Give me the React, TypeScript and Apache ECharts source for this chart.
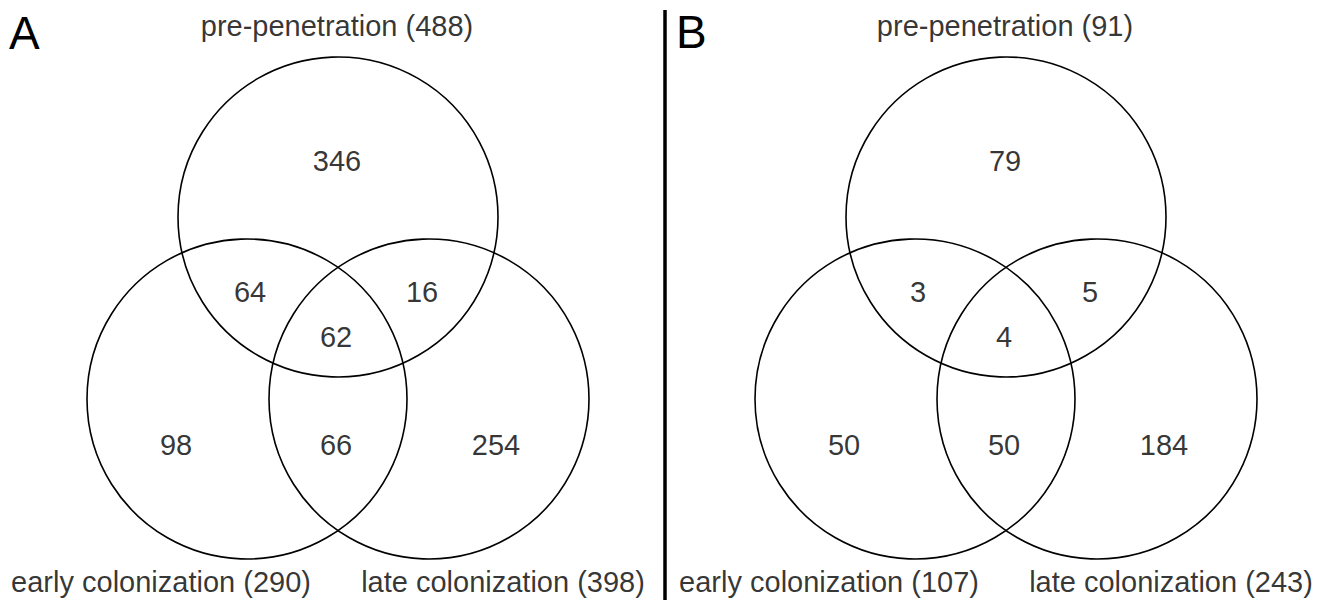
import React, { useEffect, useRef } from "react";
import * as echarts from "echarts";

// ---- data ----
const setNames = ["pre-penetration", "early colonization", "late colonization"];
const totalsA = [488, 290, 398];
const totalsB = [91, 107, 243];
// regions: pre only, pre∩early, pre∩late, all three, early only, early∩late, late only
const regionNames = ["pre only", "pre & early", "pre & late", "all", "early only", "early & late", "late only"];
const countsA = [346, 64, 16, 62, 98, 66, 254];
const countsB = [79, 3, 5, 4, 50, 50, 184];
const panelLetters = ["A", "B"];

// ---- layout (panel-local coordinates, pixels of the 1326x600 canvas) ----
const panelOffsets = [0, 668];
const circleCenters = [
  [338, 217],
  [247, 399],
  [429, 399],
];
const circleRadius = 160;
const regionPos = [
  [337, 161],
  [250, 292],
  [422, 292],
  [336, 337],
  [176, 445],
  [336, 445],
  [496, 445],
];
const setLabelPos = [
  [337, 26],
  [161, 582],
  [503, 582],
];

const FONT = "'Liberation Sans', Arial, Helvetica, sans-serif";

export default function App() {
  const ref = useRef<HTMLDivElement>(null);
  useEffect(() => {
    document.body.style.margin = "0";
    const chart = echarts.init(ref.current!, null, { renderer: "svg" });
    const panels = [
      { counts: countsA, totals: totalsA },
      { counts: countsB, totals: totalsB },
    ];
    const circleData: any[] = [];
    const countData: any[] = [];
    const labelData: any[] = [];
    panels.forEach((p, pi) => {
      const off = panelOffsets[pi];
      circleCenters.forEach((c, ci) => {
        circleData.push({ name: setNames[ci], value: [c[0] + off, c[1], circleRadius] });
      });
      p.counts.forEach((v, ri) => {
        countData.push({ name: regionNames[ri], value: [regionPos[ri][0] + off, regionPos[ri][1], v] });
      });
      p.totals.forEach((t, si) => {
        labelData.push({
          name: `${setNames[si]} (${t})`,
          value: [setLabelPos[si][0] + off, setLabelPos[si][1], t],
        });
      });
    });

    chart.setOption({
      animation: false,
      backgroundColor: "#ffffff",
      grid: { left: 0, right: 0, top: 0, bottom: 0 },
      xAxis: { type: "value", min: 0, max: 1326, show: false },
      yAxis: { type: "value", min: 0, max: 600, inverse: true, show: false },
      series: [
        {
          type: "custom",
          data: circleData,
          silent: true,
          renderItem: (params: any, api: any) => {
            const c = api.coord([api.value(0), api.value(1)]);
            const s = api.size([api.value(2), api.value(2)]);
            return {
              type: "circle",
              shape: { cx: c[0], cy: c[1], r: s[0] },
              style: { fill: "none", stroke: "#000", lineWidth: 1.6 },
            };
          },
        },
        {
          type: "scatter",
          data: countData,
          symbolSize: 1,
          itemStyle: { color: "transparent" },
          label: {
            show: true,
            position: "inside",
            formatter: (p: any) => String(p.value[2]),
            fontSize: 29,
            fontFamily: FONT,
            color: "#000",
          },
        },
        {
          type: "scatter",
          data: labelData,
          symbolSize: 1,
          itemStyle: { color: "transparent" },
          label: {
            show: true,
            position: "inside",
            formatter: (p: any) => p.name,
            fontSize: 29,
            fontFamily: FONT,
            color: "#000",
          },
        },
      ],
      graphic: [
        {
          type: "text",
          left: 9,
          top: 10,
          style: { text: panelLetters[0], fontSize: 46, fontFamily: FONT, fill: "#000" },
        },
        {
          type: "text",
          left: 676,
          top: 9,
          style: { text: panelLetters[1], fontSize: 46, fontFamily: FONT, fill: "#000" },
        },
        {
          type: "line",
          shape: { x1: 665, y1: 10, x2: 665, y2: 600 },
          style: { stroke: "#000", lineWidth: 3.5 },
        },
      ],
    });
    return () => chart.dispose();
  }, []);
  return (
    <div
      ref={ref}
      style={{ position: "fixed", left: 0, top: 0, width: 1326, height: 600, background: "#fff" }}
    />
  );
}
